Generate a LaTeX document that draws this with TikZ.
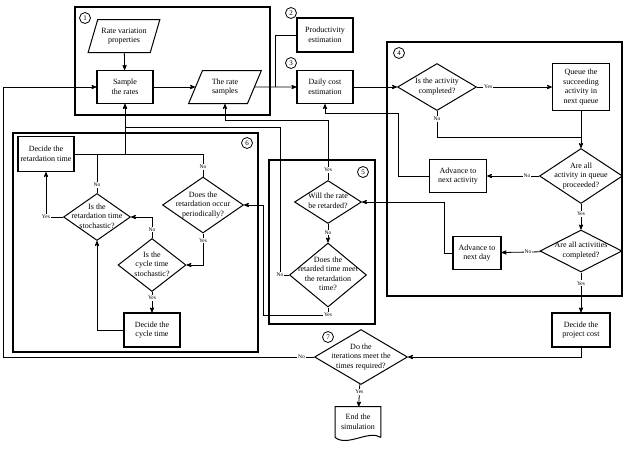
\documentclass[tikz,border=0pt]{standalone}
\usepackage{fontspec}
\setmainfont{Liberation Serif}
\usetikzlibrary{shapes.geometric,arrows}

\newcommand{\dtxt}[1]{\makebox[0pt]{\smash{\raisebox{-0.2em}{\begin{tabular}{@{}c@{}}#1\end{tabular}}}}}

\begin{document}
\begin{tikzpicture}[x=1pt, y=-1pt, node distance=100pt, >=stealth', line width=0.8pt,
    font=\fontsize{8}{9.5}\selectfont,
    main/.style = {draw, rectangle, line width=1.2pt, minimum width=56pt, minimum height=33pt, align=center, inner sep=1pt},
    io/.style = {draw, trapezium, trapezium left angle=65, trapezium right angle=115, trapezium stretches=true, line width=1pt, minimum width=72pt, minimum height=33pt, align=center, inner sep=1pt},
    dec/.style = {draw, diamond, line width=1pt, inner sep=0pt},
    frame/.style = {line width=1.2pt},
    num/.style = {draw, circle, line width=0.8pt, inner sep=0pt, minimum size=11pt, font=\fontsize{7}{7}\selectfont},
    lbl/.style = {fill=white, inner sep=1pt, font=\fontsize{5.5}{6}\selectfont}]
\useasboundingbox (0,0) rectangle (627,448);

% group frames
\draw[frame] (75,7) rectangle (270,115);
\draw[frame] (387,42) rectangle (622,296);
\draw[frame] (269,160) rectangle (375,324);
\draw[frame] (13,133) rectangle (258,352);
\node[num] (c_1) at (85,18) {1};
\node[num] (c_2) at (291,13) {2};
\node[num] (c_3) at (291,63) {3};
\node[num] (c_4) at (399,53) {4};
\node[num] (c_5) at (363,172) {5};
\node[num] (c_6) at (247,143) {6};
\node[num] (c_7) at (328,337) {7};

% nodes
\node[io] (n_rvp) at (124,36) {Rate variation\\properties};
\node[main] (n_samp) at (125,87) {Sample\\the rates};
\node[io, minimum width=73pt] (n_rs) [right of=n_samp] {The rate\\samples};
\node[main] (n_cost) [right of=n_rs] {Daily cost\\estimation};
\node[main, minimum height=34pt] (n_prod) at (325,35) {Productivity\\estimation};
\node[dec, minimum width=79pt, minimum height=47pt] (d_done) at (437,87) {\dtxt{Is the activity\\completed?}};
\node[main, minimum width=57pt, minimum height=47pt] (n_queue) at (581,87) {Queue the\\succeeding\\activity in\\next queue};
\node[dec, minimum width=83pt, minimum height=55pt] (d_queue) at (581,176) {\dtxt{Are all\\activity in queue\\proceeded?}};
\node[main, minimum width=57pt] (n_nact) at (458,176) {Advance to\\next activity};
\node[dec, minimum width=82pt, minimum height=42pt] (d_all) at (581,251) {\dtxt{Are all activities\\completed?}};
\node[main, minimum width=48pt] (n_nday) at (477,253) {Advance to\\next day};
\node[main, minimum width=58pt, minimum height=34pt] (n_pcost) at (581,330) {Decide the\\project cost};
\node[dec, minimum width=93pt, minimum height=55pt] (d_iter) at (361,357) {\dtxt{Do the\\iterations meet the\\times required?}};
\node[minimum width=45pt, minimum height=30pt, align=center, inner sep=1pt] (n_end) at (358,422) {End the\\simulation};
\draw[line width=1pt] (n_end.south east) -- (n_end.north east) -- (n_end.north west) -- (n_end.south west)
    .. controls +(12,10) and +(-12,-8) .. (n_end.south east);
\node[dec, minimum width=67pt, minimum height=43pt] (d_ret) at (328,202) {\dtxt{Will the rate\\be retarded?}};
\node[dec, minimum width=77pt, minimum height=64pt] (d_meet) at (328,275) {\dtxt{Does the\\retarded time meet\\the retardation\\time?}};
\node[main, minimum height=35pt] (n_drt) at (46,154) {Decide the\\retardation time};
\node[dec, minimum width=81pt, minimum height=56pt] (d_per) at (203,205) {\dtxt{Does the\\retardation occur\\periodically?}};
\node[dec, minimum width=67pt, minimum height=47pt] (d_rst) at (97,217) {\dtxt{Is the\\retardation time\\stochastic?}};
\node[dec, minimum width=68pt, minimum height=53pt] (d_cst) at (152,265) {\dtxt{Is the\\cycle time\\stochastic?}};
\node[main, minimum height=34pt] (n_dct) at (152,330) {Decide the\\cycle time};

% main line
\draw[->] (n_rvp) -- (n_samp);
\draw[->] (n_samp) -- (n_rs);
\draw[->] (n_rs) -- (n_cost);
\coordinate (j_prod) at (275,87);
\draw (n_prod.west) -| (j_prod);
\draw[->] (n_cost) -- (d_done);

% scheduling loop
\draw[->] (d_done) -- node[lbl, pos=0.15] {Yes} (n_queue);
\coordinate (j_queue) at (581,137);
\draw (d_done.south) |- node[lbl, pos=0.15] {No} (j_queue);
\draw[->] (n_queue) -- (d_queue);
\draw[->] (d_queue) -- node[lbl, pos=0.23] {No} (n_nact);
\draw[->] (n_nact.west) -| (398,113) -| (n_cost.south);
\draw[->] (d_queue) -- node[lbl, pos=0.4] {Yes} (d_all);
\draw[->] (d_all) -- node[lbl, pos=0.33] {No} (n_nday);
\draw[->] (n_nday.west) -- ++(-8,0) |- (d_ret.east);
\draw[->] (d_all) -- node[lbl, pos=0.27] {Yes} (n_pcost);
\draw[->] (n_pcost.south) |- (d_iter.east);
\draw[->] (d_iter.west) -- node[lbl, pos=0.04] {No} (3,357) |- (n_samp.west);
\draw[->] (d_iter) -- node[lbl, pos=0.35] {Yes} (n_end);

% retardation
\draw[->] (d_ret.north) -- node[lbl, pos=0.17] {Yes} (328,120) -| (n_rs.south);
\draw[->] (d_ret) -- node[lbl, pos=0.45] {No} (d_meet);
\draw[->] (d_meet.west) -| node[lbl, pos=0.5] {No} (280,127) -| (n_samp.south);
\draw[->] (d_meet.south) |- node[lbl, pos=0.5] {Yes} (263,315) |- (d_per.east);

% retardation time
\draw (d_rst.north) -- node[lbl, pos=0.2] {No} (d_rst.north |- n_drt.east);
\draw (d_per.north) -- node[lbl, pos=0.43] {No} (d_per.north |- n_drt.east);
\draw (n_drt.east) -- (d_per.north |- n_drt.east);
\draw[->] (n_drt.east -| n_samp.south) -- (n_samp.south);
\draw[->] (d_rst.west) -| node[lbl, pos=0.5] {Yes} (n_drt.south);
\draw[->] (d_cst.north) |- node[lbl, pos=0.2] {No} (d_rst.east);
\draw[->] (d_per.south) |- node[lbl, pos=0.11] {Yes} (d_cst.east);
\draw[->] (d_cst) -- node[lbl, pos=0.3] {Yes} (n_dct);
\draw[->] (n_dct.west) -| (d_rst.south);
\end{tikzpicture}
\end{document}
